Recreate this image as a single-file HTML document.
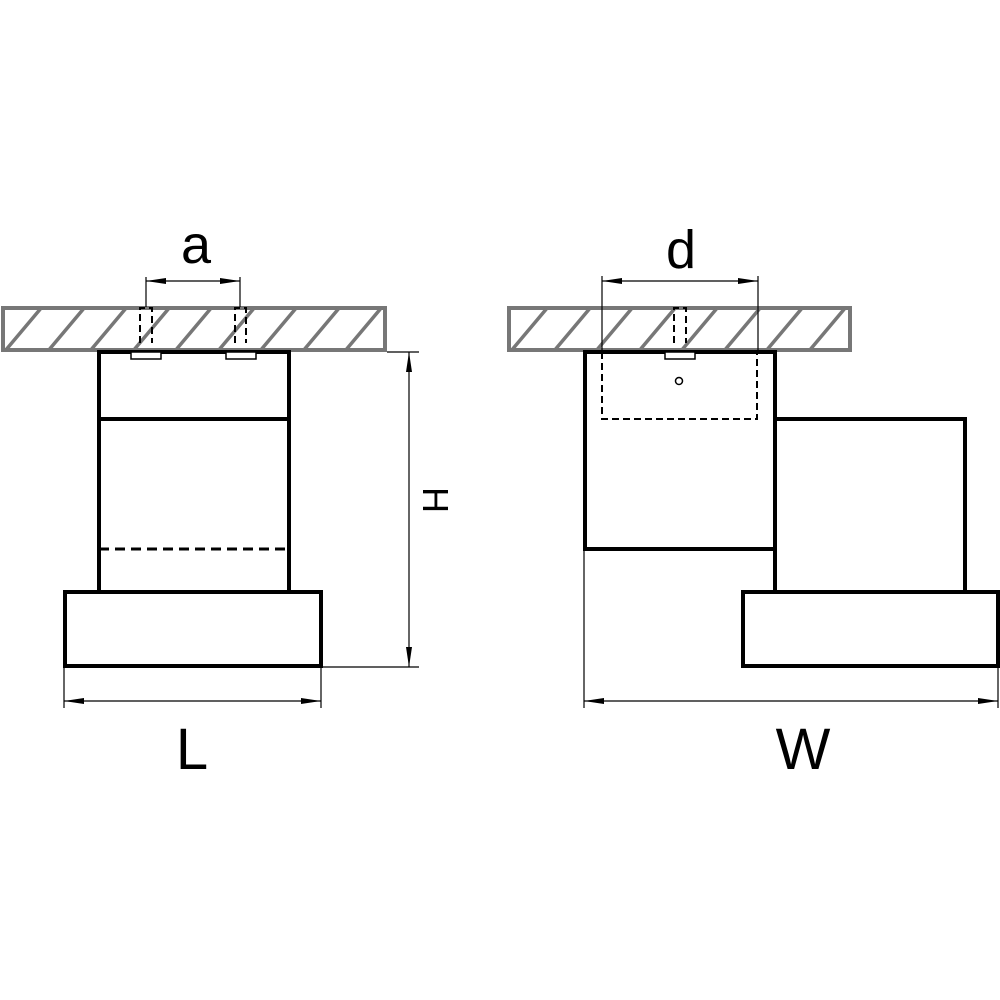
<!DOCTYPE html>
<html><head><style>body{margin:0;background:#fff}svg{display:block}</style></head><body>
<svg width="1000" height="1000" viewBox="0 0 1000 1000" xmlns="http://www.w3.org/2000/svg">
<defs>
<clipPath id="c1"><rect x="3" y="308" width="382" height="42"/></clipPath>
<clipPath id="c2"><rect x="509" y="308" width="341" height="42"/></clipPath>
<marker id="ar" viewBox="0 0 20 6" refX="20" refY="3" markerWidth="20" markerHeight="6" markerUnits="userSpaceOnUse" orient="auto-start-reverse"><path d="M0,0 L20,3 L0,6 z" fill="#000"/></marker>
</defs>
<g stroke="#777" stroke-width="4" fill="none">
<rect x="3" y="308" width="382" height="42"/>
<rect x="509" y="308" width="341" height="42"/>
</g>
<g stroke="#777" stroke-width="3.5" clip-path="url(#c1)">
<path d="M5,351 l37,-44 M48,351 l37,-44 M90,351 l37,-44 M133,351 l37,-44 M175,351 l37,-44 M218,351 l37,-44 M260,351 l37,-44 M303,351 l37,-44 M345,351 l37,-44 M388,351 l37,-44 M-38,351 l37,-44"/>
</g>
<g stroke="#777" stroke-width="3.5" clip-path="url(#c2)">
<path d="M511,351 l37,-44 M554,351 l37,-44 M596,351 l37,-44 M639,351 l37,-44 M681,351 l37,-44 M724,351 l37,-44 M766,351 l37,-44 M809,351 l37,-44 M851,351 l37,-44"/>
</g>
<g stroke="#000" stroke-width="4" fill="none">
<rect x="99" y="352" width="190" height="240"/>
<line x1="99" y1="419" x2="289" y2="419"/>
<rect x="65" y="592" width="256" height="74"/>
<rect x="585" y="352" width="190" height="197"/>
<rect x="775" y="419" width="190" height="173"/>
<rect x="743" y="592" width="255" height="74"/>
</g>
<line x1="99" y1="549" x2="289" y2="549" stroke="#000" stroke-width="3" stroke-dasharray="10,6"/>
<g stroke="#000" stroke-width="2" fill="none" stroke-dasharray="7,4">
<path d="M140,343 V308 H152 V343"/>
<path d="M235,343 V308 H246 V343"/>
<path d="M674,343 V308 H686 V343"/>
<path d="M602,352 V419 H757 V352"/>
</g>
<g stroke="#000" stroke-width="1.5" fill="#fff">
<rect x="131" y="352" width="30" height="7"/>
<rect x="226" y="352" width="30" height="7"/>
<rect x="665" y="352" width="30" height="7"/>
<circle cx="679" cy="381" r="3.5"/>
</g>
<g stroke="#000" stroke-width="1.2" fill="none">
<path d="M146,307 V277 M240,307 V277 M602,352 V276 M758,352 V276"/>
<line x1="146" y1="281" x2="240" y2="281" marker-start="url(#ar)" marker-end="url(#ar)"/>
<line x1="602" y1="281" x2="758" y2="281" marker-start="url(#ar)" marker-end="url(#ar)"/>
<path d="M387,352 H419 M321,667 H419"/>
<line x1="409" y1="352" x2="409" y2="667" marker-start="url(#ar)" marker-end="url(#ar)"/>
<path d="M64,666 V708 M321,666 V708 M584,549 V708 M998,666 V708"/>
<line x1="64" y1="701" x2="321" y2="701" marker-start="url(#ar)" marker-end="url(#ar)"/>
<line x1="584" y1="701" x2="998" y2="701" marker-start="url(#ar)" marker-end="url(#ar)"/>
</g>
<g font-family="Liberation Sans, sans-serif" fill="#000" text-anchor="middle">
<text x="196" y="263" font-size="54">a</text>
<text x="681" y="268" font-size="54">d</text>
<text x="192" y="769" font-size="58">L</text>
<text x="803" y="769" font-size="58">W</text>
<text transform="translate(423,500) rotate(90)" font-size="36">H</text>
</g>
</svg>
</body></html>
